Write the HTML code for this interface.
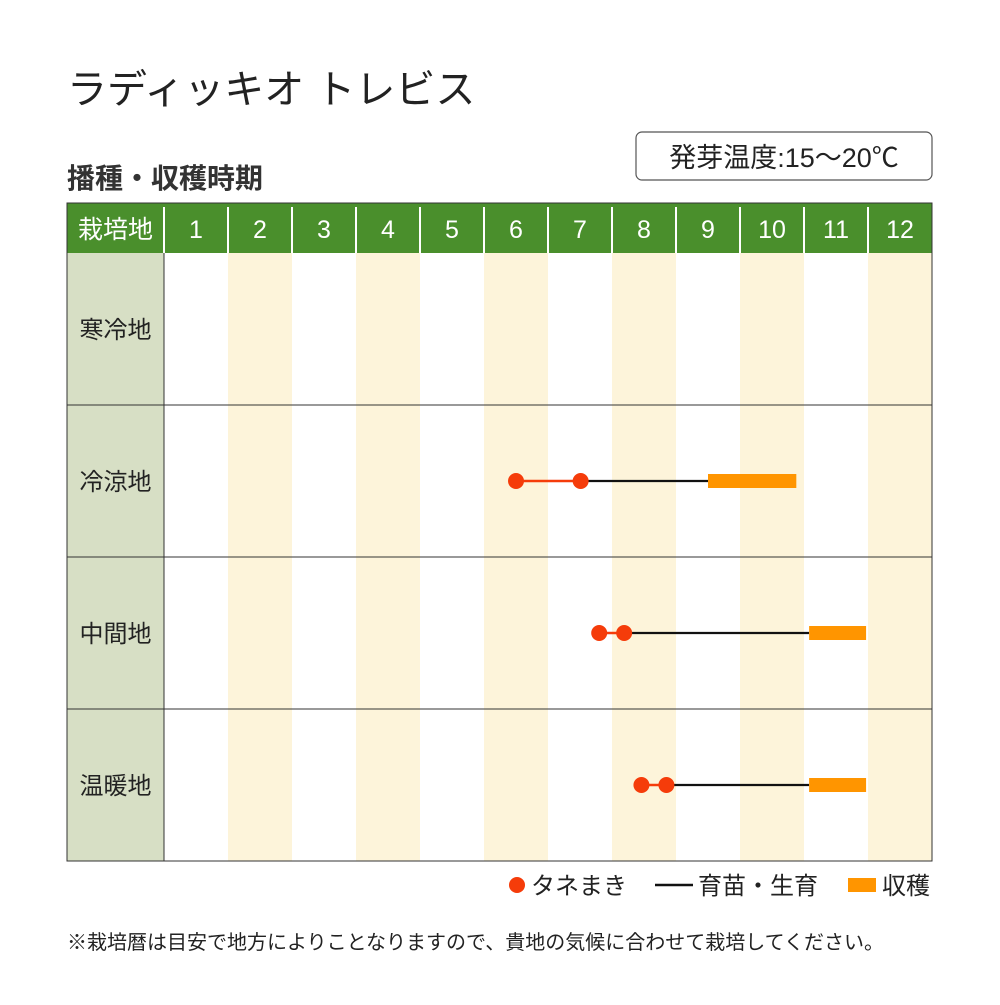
<!DOCTYPE html>
<html><head><meta charset="utf-8">
<style>
body{margin:0;background:#fff;font-family:"Liberation Sans","Noto Sans CJK JP",sans-serif;}
svg text{font-family:"Liberation Sans","Noto Sans CJK JP",sans-serif;}
</style></head>
<body>
<svg id="chart" width="1000" height="1000" viewBox="0 0 1000 1000" xmlns="http://www.w3.org/2000/svg">
<text x="67" y="103" font-size="40" fill="#222">ラディッキオ トレビス</text>
<rect x="636" y="132" width="296" height="48" rx="6" fill="#fff" stroke="#555" stroke-width="1.2"/>
<text x="784" y="167" font-size="27" fill="#222" text-anchor="middle">発芽温度:15～20℃</text>
<text x="67" y="188" font-size="28" font-weight="bold" fill="#333">播種・収穫時期</text>
<g id="grid"></g>
<g id="marks"></g>
<g>
<circle cx="517" cy="885" r="8" fill="#f53c0a"/>
<text x="531" y="894" font-size="24" fill="#222">タネまき</text>
<line x1="655" y1="885" x2="693" y2="885" stroke="#111" stroke-width="2.5"/>
<text x="698" y="894" font-size="24" fill="#222">育苗・生育</text>
<rect x="848" y="878" width="28" height="14" fill="#ff9500"/>
<text x="882" y="894" font-size="24" fill="#222">収穫</text>
</g>
<text x="67" y="949" font-size="20" fill="#222">※栽培暦は目安で地方によりことなりますので、貴地の気候に合わせて栽培してください。</text>
</svg>
<script>
const months = ["1","2","3","4","5","6","7","8","9","10","11","12"];
const regions = ["寒冷地","冷涼地","中間地","温暖地"];
const sowStart = [null, 5.5, 6.8, 7.46];
const sowEnd = [null, 6.51, 7.19, 7.85];
const harvestStart = [null, 8.5, 10.08, 10.08];
const harvestEnd = [null, 9.88, 10.97, 10.97];

const NS="http://www.w3.org/2000/svg";
const X0=164, MW=64, TOP=203, HH=50, RH=152, LEFT=67, RIGHT=932;
function xs(v){return X0+v*MW;}
function rowY(i){return TOP+HH+i*RH+RH/2;}
function mk(tag,attrs,parent){const e=document.createElementNS(NS,tag);for(const k in attrs)e.setAttribute(k,attrs[k]);parent.appendChild(e);return e;}
const grid=document.getElementById('grid');
const marks=document.getElementById('marks');
const bottom=TOP+HH+regions.length*RH;
// body columns
months.forEach((m,i)=>{
  const r=mk('rect',{x:xs(i),y:TOP+HH,width:MW,height:bottom-TOP-HH,fill:i%2?'#fdf4da':'#fff'},grid);
  
  
});
const fc=mk('rect',{x:LEFT,y:TOP+HH,width:X0-LEFT,height:bottom-TOP-HH,fill:'#d7dfc5'},grid);


const hdr=mk('rect',{x:LEFT,y:TOP,width:RIGHT-LEFT,height:HH,fill:'#4a8f2c'},grid);


const ht=mk('text',{x:(LEFT+X0)/2,y:TOP+35,'font-size':25,fill:'#fff','text-anchor':'middle'},grid);
ht.textContent='栽培地';


mk('line',{x1:X0,y1:TOP+4,x2:X0,y2:TOP+HH,stroke:'#fff','stroke-width':2},grid);
months.forEach((m,i)=>{
  const t=mk('text',{x:xs(i)+MW/2,y:TOP+35,'font-size':25,fill:'#fff','text-anchor':'middle'},grid);
  t.textContent=m;
  
  
  if(i>0) mk('line',{x1:xs(i),y1:TOP+4,x2:xs(i),y2:TOP+HH,stroke:'#fff','stroke-width':2},grid);
});
regions.forEach((r,i)=>{
  const t=mk('text',{x:(LEFT+X0)/2,y:rowY(i)+9,'font-size':24,fill:'#222','text-anchor':'middle'},grid);
  t.textContent=r;
  
  
  if(i>0) mk('line',{x1:LEFT,y1:TOP+HH+i*RH,x2:RIGHT,y2:TOP+HH+i*RH,stroke:'#333','stroke-width':1},grid);
});
mk('line',{x1:X0,y1:TOP+HH,x2:X0,y2:bottom,stroke:'#333','stroke-width':1},grid);
mk('rect',{x:LEFT,y:TOP,width:RIGHT-LEFT,height:bottom-TOP,fill:'none',stroke:'#333','stroke-width':1},grid);
regions.forEach((r,i)=>{
  if(sowStart[i]==null) return;
  const y=rowY(i);
  const g=mk('line',{x1:xs(sowEnd[i]),y1:y,x2:xs(harvestStart[i]),y2:y,stroke:'#111','stroke-width':2.2},marks);
  
  
  const s=mk('line',{x1:xs(sowStart[i]),y1:y,x2:xs(sowEnd[i]),y2:y,stroke:'#f53c0a','stroke-width':2.5},marks);
  
  
  [sowStart[i],sowEnd[i]].forEach((v,k)=>{
    const c=mk('circle',{cx:xs(v),cy:y,r:8,fill:'#f53c0a'},marks);
    
    
  });
  const h=mk('rect',{x:xs(harvestStart[i]),y:y-7,width:xs(harvestEnd[i])-xs(harvestStart[i]),height:14,fill:'#ff9500'},marks);
  
  
});
</script>
</body></html>
